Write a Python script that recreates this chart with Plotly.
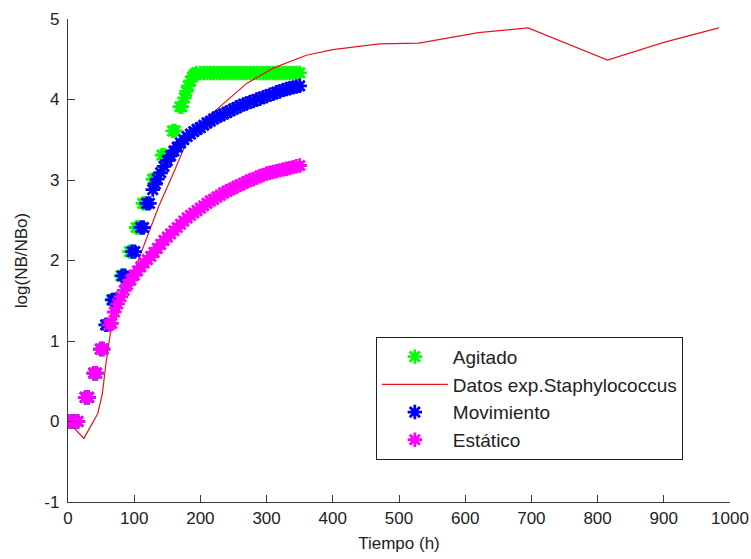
import plotly.graph_objects as go

# ---- data ----
# Agitado (green)
t_agitado = [0, 5, 10, 15, 26, 31, 39, 43, 49, 53, 57, 60, 66, 69, 80, 83, 93, 96,
             103, 106, 113, 116, 128, 131, 142, 146, 158, 162, 169, 172, 176, 179,
             182, 185, 188, 191, 194, 200, 205, 210, 215, 220, 225, 230, 235, 240,
             245, 250, 255, 260, 265, 270, 275, 280, 285, 290, 295, 300, 305, 310,
             315, 320, 325, 330, 335, 340, 345, 350]
y_agitado = [0, 0, 0, 0, 0.30, 0.30, 0.60, 0.60, 0.90, 0.90, 1.20, 1.20, 1.51, 1.51,
             1.81, 1.81, 2.11, 2.11, 2.41, 2.41, 2.71, 2.71, 3.01, 3.01, 3.31, 3.31,
             3.61, 3.61, 3.91, 3.91, 4.02, 4.10, 4.17, 4.23, 4.28, 4.31, 4.33, 4.33,
             4.33, 4.33, 4.33, 4.33, 4.33, 4.33, 4.33, 4.33, 4.33, 4.33, 4.33, 4.33,
             4.33, 4.33, 4.33, 4.33, 4.33, 4.33, 4.33, 4.33, 4.33, 4.33, 4.33, 4.33,
             4.33, 4.33, 4.33, 4.33, 4.33, 4.33]

# Datos exp. Staphylococcus (red line)
t_exp = [0, 24, 45, 52, 57, 64, 100, 137, 160, 178, 200, 240, 270, 310, 360, 400,
         470, 530, 620, 695, 815, 900, 983]
y_exp = [0, -0.21, 0.10, 0.35, 0.70, 1.10, 1.87, 2.67, 3.10, 3.45, 3.70, 3.99, 4.20,
         4.39, 4.55, 4.62, 4.69, 4.70, 4.83, 4.89, 4.49, 4.71, 4.89]

# Movimiento (blue)
t_mov = [0, 5, 10, 15, 26, 31, 39, 43, 49, 53, 57, 60, 67, 70, 82, 86, 97, 101,
         110, 114, 119, 123, 128, 132, 135, 140, 145, 150, 155, 160, 165, 170, 175,
         180, 185, 190, 195, 200, 205, 210, 215, 220, 225, 230, 235, 240, 245, 250,
         255, 260, 265, 270, 275, 280, 285, 290, 295, 300, 305, 310, 315, 320, 325,
         330, 335, 340, 345, 350]
y_mov = [0, 0, 0, 0, 0.30, 0.30, 0.60, 0.60, 0.90, 0.90, 1.20, 1.20, 1.51, 1.51,
         1.81, 1.81, 2.11, 2.11, 2.41, 2.41, 2.71, 2.71, 2.88, 2.95, 3.01, 3.09,
         3.17, 3.24, 3.30, 3.36, 3.41, 3.46, 3.50, 3.54, 3.57, 3.60, 3.63, 3.65,
         3.68, 3.71, 3.73, 3.76, 3.78, 3.80, 3.82, 3.84, 3.86, 3.88, 3.90, 3.92,
         3.94, 3.95, 3.97, 3.98, 4.00, 4.01, 4.03, 4.04, 4.06, 4.07, 4.09, 4.10,
         4.12, 4.13, 4.14, 4.15, 4.16, 4.17]

# Estatico (magenta)
t_est = [0, 5, 10, 15, 26, 31, 39, 43, 49, 53, 62, 66, 70, 75, 80, 85, 90, 95, 100,
         105, 110, 115, 120, 125, 130, 135, 140, 145, 150, 155, 160, 165, 170, 175,
         180, 185, 190, 195, 200, 205, 210, 215, 220, 225, 230, 235, 240, 245, 250,
         255, 260, 265, 270, 275, 280, 285, 290, 295, 300, 305, 310, 315, 320, 325,
         330, 335, 340, 345, 350]
y_est = [0, 0, 0, 0, 0.30, 0.30, 0.60, 0.60, 0.90, 0.90, 1.20, 1.22, 1.36, 1.46,
         1.55, 1.63, 1.70, 1.76, 1.82, 1.87, 1.92, 1.97, 2.01, 2.05, 2.10, 2.15,
         2.20, 2.25, 2.29, 2.33, 2.37, 2.41, 2.45, 2.49, 2.53, 2.56, 2.59, 2.62,
         2.65, 2.68, 2.71, 2.74, 2.76, 2.79, 2.81, 2.84, 2.86, 2.88, 2.90, 2.92,
         2.94, 2.96, 2.98, 3.00, 3.01, 3.03, 3.05, 3.06, 3.08, 3.09, 3.10, 3.11,
         3.12, 3.13, 3.14, 3.15, 3.16, 3.17, 3.18]

x_ticks = [0, 100, 200, 300, 400, 500, 600, 700, 800, 900, 1000]
x_tick_labels = ["0", "100", "200", "300", "400", "500", "600", "700", "800", "900", "1000"]
y_ticks = [-1, 0, 1, 2, 3, 4, 5]
y_tick_labels = ["-1", "0", "1", "2", "3", "4", "5"]

FONT = "Liberation Sans, Arial, sans-serif"
AX = "#3a3a3a"

def star(color):
    return dict(symbol="asterisk-open", size=12, color=color,
                line=dict(width=2.8, color=color))

fig = go.Figure()
fig.add_trace(go.Scatter(x=t_agitado, y=y_agitado, mode="markers", name="Agitado",
                         marker=star("#00ff00")))
fig.add_trace(go.Scatter(x=t_exp, y=y_exp, mode="lines", name="Datos exp.Staphylococcus",
                         line=dict(color="#e8141e", width=1.2)))
fig.add_trace(go.Scatter(x=t_mov, y=y_mov, mode="markers", name="Movimiento",
                         marker=star("#0000ff")))
fig.add_trace(go.Scatter(x=t_est, y=y_est, mode="markers", name="Estático",
                         marker=star("#ff00ff")))

fig.update_layout(
    width=751, height=559,
    margin=dict(l=68, r=21, t=19, b=57, autoexpand=False),
    paper_bgcolor="white", plot_bgcolor="white",
    font=dict(family=FONT, size=17, color="#222"),
    showlegend=True,
    legend=dict(x=0.465, y=0.342, xanchor="left", yanchor="top",
                bordercolor="#222", borderwidth=1, bgcolor="white",
                font=dict(family=FONT, size=19, color="#222"),
                itemwidth=66, tracegroupgap=0),
    xaxis=dict(range=[0, 1000], tickvals=x_ticks, ticktext=x_tick_labels,
               showline=True, linecolor=AX, linewidth=1.3, mirror=False,
               ticks="inside", ticklen=7, tickcolor=AX, tickwidth=1.3,
               showgrid=False, zeroline=False, automargin=False,
               title=dict(text="Tiempo (h)", font=dict(size=17), standoff=10),
               tickfont=dict(size=17, color="#222")),
    yaxis=dict(range=[-1, 5], tickvals=y_ticks, ticktext=y_tick_labels,
               showline=True, linecolor=AX, linewidth=1.3, mirror=False,
               ticks="inside", ticklen=7, tickcolor=AX, tickwidth=1.3,
               showgrid=False, zeroline=False, automargin=False,
               ticklabelstandoff=4,
               title=dict(text="log(NB/NBo)", font=dict(size=17), standoff=12),
               tickfont=dict(size=17, color="#222")),
)

fig.write_html("out.html")
